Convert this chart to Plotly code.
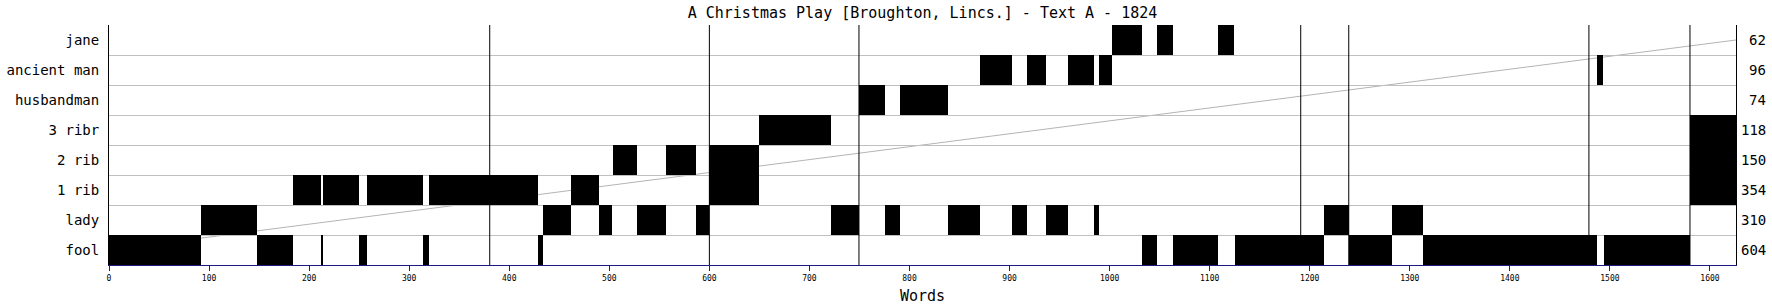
import plotly.graph_objects as go

# ---- data (word positions) ----
characters = ["fool", "lady", "1 rib", "2 rib", "3 ribr", "husbandman", "ancient man", "jane"]
word_totals = [604, 310, 354, 150, 118, 74, 96, 62]

fool_start = [0, 148, 211.5, 250, 314, 429, 1032, 1063, 1125, 1239, 1313, 1494]
fool_end = [92, 184, 213.5, 257.5, 320, 434, 1047, 1108, 1214, 1282, 1487, 1580]

lady_start = [92, 434, 490, 527.5, 586.5, 722, 776, 838, 902, 936, 984, 1214, 1282]
lady_end = [148, 462, 503, 557, 600, 749.5, 791, 870, 917, 958, 989, 1239, 1313]

rib1_start = [184, 213.5, 257.5, 320, 462, 600, 1580]
rib1_end = [211.5, 250, 314, 429, 490, 649.5, 1626]

rib2_start = [504, 557, 600, 1580]
rib2_end = [527.5, 586.5, 649.5, 1626]

ribr3_start = [649.5, 1580]
ribr3_end = [722, 1626]

husbandman_start = [749.5, 791]
husbandman_end = [776, 838]

ancient_start = [870, 917, 958, 989, 1487.5]
ancient_end = [902, 936, 984, 1002, 1493.5]

jane_start = [1002, 1047, 1108]
jane_end = [1032, 1063, 1124.5]

scene_breaks = [380.5, 600, 749.5, 1191, 1239, 1479, 1580]
total_words = 1626
x_ticks = list(range(0, 1601, 100))

segments = [
    (fool_start, fool_end),
    (lady_start, lady_end),
    (rib1_start, rib1_end),
    (rib2_start, rib2_end),
    (ribr3_start, ribr3_end),
    (husbandman_start, husbandman_end),
    (ancient_start, ancient_end),
    (jane_start, jane_end),
]

MONO = "DejaVu Sans Mono"
NAVY = "#1c1c80"

fig = go.Figure()
for idx, (starts, ends) in enumerate(segments):
    fig.add_trace(go.Bar(
        orientation="h",
        y=[idx] * len(starts),
        x=[e - s for s, e in zip(starts, ends)],
        base=starts,
        width=1,
        marker=dict(color="black", line=dict(width=0)),
        showlegend=False,
        hoverinfo="skip",
        name=characters[idx],
    ))

# progress diagonal
fig.add_shape(type="line", xref="x", yref="y", x0=0, y0=0, x1=total_words, y1=len(characters) - 1,
              line=dict(color="#b4b4b4", width=1), layer="below")

for b in scene_breaks:
    fig.add_shape(type="line", xref="x", yref="paper", x0=b, x1=b, y0=0, y1=1,
                  line=dict(color="black", width=1), layer="above")

# word totals on the right, right-aligned
for idx, tot in enumerate(word_totals):
    fig.add_annotation(x=1.0195, xref="paper", y=idx, yref="y", text=str(tot),
                       showarrow=False, xanchor="right", yanchor="middle",
                       font=dict(family=MONO, size=14, color="black"))

yr = [-0.5, len(characters) - 0.5]
fig.update_layout(
    width=1772, height=305,
    margin=dict(l=109, r=36, t=25, b=40),
    paper_bgcolor="white", plot_bgcolor="white",
    barmode="overlay",
    bargap=0,
    title=dict(text="A Christmas Play [Broughton, Lincs.] - Text A - 1824",
               x=0.5, xref="paper", xanchor="center",
               y=1 - 12.5 / 305, yref="container", yanchor="middle",
               font=dict(family=MONO, size=15, color="black")),
    xaxis=dict(range=[0, total_words], tickvals=x_ticks, ticktext=[str(v) for v in x_ticks],
               automargin=False,
               showgrid=False, zeroline=False, showline=True, linecolor=NAVY, linewidth=1,
               ticks="outside", ticklen=5, tickcolor=NAVY, tickwidth=1,
               tickfont=dict(family=MONO, size=8, color="black"),
               title=dict(text="Words", font=dict(family=MONO, size=15, color="black"), standoff=12)),
    yaxis=dict(range=yr, tickvals=list(range(len(characters))), ticktext=characters,
               automargin=False,
               showgrid=False, zeroline=False, showline=True, linecolor="black", linewidth=1,
               mirror=True, ticks="", ticklabelstandoff=6,
               tickfont=dict(family=MONO, size=14, color="black"),
               minor=dict(tickvals=[i - 0.5 for i in range(len(characters) + 1)],
                          showgrid=True, gridcolor="#c0c0c0", gridwidth=1, ticks="")),
)

fig.write_html("out.html")
